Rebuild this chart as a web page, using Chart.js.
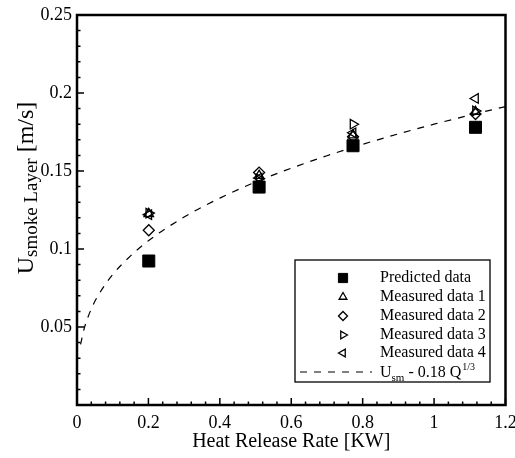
<!DOCTYPE html>
<html>
<head>
<meta charset="utf-8">
<script src="https://cdn.jsdelivr.net/npm/chart.js@4/dist/chart.umd.min.js"></script>
<style>
  html, body { margin: 0; padding: 0; background: #fff; }
</style>
</head>
<body>
<canvas id="grafico" width="515" height="458"></canvas>
<script>
// dados
const heatRate = [0.201, 0.51, 0.773, 1.116];
const predicted = [0.0923, 0.1397, 0.1662, 0.1780];
const measured1 = [0.1225, 0.1470, 0.1730, 0.1880];
const measured2 = [0.1120, 0.1490, 0.1720, 0.1865];
const measured3 = [0.1230, 0.1450, 0.1800, 0.1885];
const measured4 = [0.1220, 0.1455, 0.1745, 0.1965];

// curva U = 0.18 Q^(1/3), pontos lidos ao longo da linha tracejada
const curveQ = [0.01, 0.02, 0.04, 0.06, 0.1, 0.15, 0.2, 0.3, 0.4, 0.5, 0.6, 0.7, 0.8, 0.9, 1.0, 1.1, 1.2];
const curveU = [0.0388, 0.0489, 0.0616, 0.0705, 0.0836, 0.0956, 0.1053, 0.1205, 0.1326, 0.1429, 0.1518, 0.1598, 0.1671, 0.1738, 0.1800, 0.1858, 0.1913];

const xTicks = [0, 0.2, 0.4, 0.6, 0.8, 1, 1.2];
const yTicks = [0.05, 0.1, 0.15, 0.2, 0.25];

const serif = 'Liberation Serif';

function pares(xs, ys) {
    return xs.map((v, i) => ({ x: v, y: ys[i] }));
}

const marcador = {
    backgroundColor: 'rgba(0,0,0,0)',
    borderColor: '#000',
    borderWidth: 1.3
};

const datasets = [
    {
        label: 'Predicted data',
        data: pares(heatRate, predicted),
        pointStyle: 'rect',
        pointRadius: 8.5,
        backgroundColor: '#000',
        borderColor: '#000',
        borderWidth: 1
    },
    Object.assign({ label: 'Measured data 1', data: pares(heatRate, measured1), pointStyle: 'triangle', pointRadius: 5.5, rotation: 0 }, marcador),
    Object.assign({ label: 'Measured data 2', data: pares(heatRate, measured2), pointStyle: 'rectRot', pointRadius: 5.5, rotation: 0 }, marcador),
    Object.assign({ label: 'Measured data 3', data: pares(heatRate, measured3), pointStyle: 'triangle', pointRadius: 5.5, rotation: 90 }, marcador),
    Object.assign({ label: 'Measured data 4', data: pares(heatRate, measured4), pointStyle: 'triangle', pointRadius: 5.5, rotation: -90 }, marcador),
    {
        label: 'curve',
        data: pares(curveQ, curveU),
        showLine: true,
        pointRadius: 0,
        borderColor: '#000',
        borderWidth: 1.2,
        borderDash: [7, 7],
        cubicInterpolationMode: 'monotone',
        fill: false
    }
];

// moldura, ticks internos, titulo do eixo y e legenda
const molduraPlugin = {
    id: 'moldura',
    afterDraw(chart) {
        const { ctx, chartArea: a, scales: { x, y } } = chart;
        ctx.save();
        ctx.strokeStyle = '#000';
        ctx.lineWidth = 1.5;
        ctx.beginPath();
        for (let i = 0; i <= 30; i++) {
            const px = x.getPixelForValue(i * 0.04);
            const len = i % 5 === 0 ? 7 : 3.5;
            ctx.moveTo(px, a.bottom);
            ctx.lineTo(px, a.bottom - len);
        }
        for (let i = 0; i <= 25; i++) {
            const py = y.getPixelForValue(i * 0.01);
            const len = i % 5 === 0 ? 7 : 3.5;
            ctx.moveTo(a.left, py);
            ctx.lineTo(a.left + len, py);
        }
        ctx.stroke();
        ctx.lineWidth = 2.5;
        ctx.strokeRect(a.left, a.top, a.right - a.left, a.bottom - a.top);

        // titulo do eixo y com subscrito
        ctx.fillStyle = '#000';
        ctx.translate(25, 188);
        ctx.rotate(-Math.PI / 2);
        ctx.textBaseline = 'alphabetic';
        const big = '24px "' + serif + '"';
        const sub = '19px "' + serif + '"';
        ctx.font = big;
        const wU = ctx.measureText('U').width;
        const wB = ctx.measureText(' [m/s]').width;
        ctx.font = sub;
        const wS = ctx.measureText('smoke Layer').width;
        let cx = -(wU + wS + wB) / 2;
        ctx.font = big;
        ctx.fillText('U', cx, 8);
        cx += wU;
        ctx.font = sub;
        ctx.fillText('smoke Layer', cx, 12);
        cx += wS;
        ctx.font = big;
        ctx.fillText(' [m/s]', cx, 8);
        ctx.restore();

        // legenda
        ctx.save();
        const box = { l: 295, t: 260, r: 490, b: 382 };
        ctx.fillStyle = '#fff';
        ctx.fillRect(box.l, box.t, box.r - box.l, box.b - box.t);
        ctx.strokeStyle = '#000';
        ctx.lineWidth = 1.3;
        ctx.strokeRect(box.l, box.t, box.r - box.l, box.b - box.t);
        ctx.font = '16px "' + serif + '"';
        ctx.textBaseline = 'middle';
        const rowY = [278, 297, 316, 335, 353];
        for (let i = 0; i < 5; i++) {
            const ds = datasets[i];
            const r = i === 0 ? 6.5 : 4.5;
            ctx.fillStyle = ds.backgroundColor;
            ctx.strokeStyle = '#000';
            ctx.lineWidth = ds.borderWidth;
            Chart.helpers.drawPoint(ctx, {
                pointStyle: ds.pointStyle,
                radius: r,
                rotation: ds.rotation || 0,
                borderWidth: ds.borderWidth
            }, 343, rowY[i]);
            ctx.fillStyle = '#000';
            ctx.fillText(ds.label, 380, rowY[i]);
        }
        // linha tracejada da legenda
        const ly = 372;
        ctx.strokeStyle = '#000';
        ctx.setLineDash([7, 7]);
        ctx.lineWidth = 1.2;
        ctx.beginPath();
        ctx.moveTo(300, ly);
        ctx.lineTo(372, ly);
        ctx.stroke();
        ctx.setLineDash([]);
        let tx = 380;
        ctx.textBaseline = 'alphabetic';
        const base = ly + 5;
        ctx.fillStyle = '#000';
        ctx.font = '16px "' + serif + '"';
        ctx.fillText('U', tx, base);
        tx += ctx.measureText('U').width;
        ctx.font = '11px "' + serif + '"';
        ctx.fillText('sm', tx, base + 4);
        tx += ctx.measureText('sm').width;
        ctx.font = '16px "' + serif + '"';
        ctx.fillText(' - 0.18 Q', tx, base);
        tx += ctx.measureText(' - 0.18 Q').width;
        ctx.font = '10px "' + serif + '"';
        ctx.fillText('1/3', tx + 1, base - 7);
        ctx.restore();
    }
};

function plotarGrafico() {
    const ctx = document.getElementById('grafico').getContext('2d');
    new Chart(ctx, {
        type: 'scatter',
        data: { datasets: datasets },
        options: {
            responsive: false,
            animation: false,
            layout: { padding: { top: 15, right: 9, left: 0, bottom: 0 } },
            plugins: {
                legend: { display: false },
                tooltip: { enabled: false }
            },
            scales: {
                x: {
                    type: 'linear',
                    min: 0,
                    max: 1.2,
                    afterBuildTicks: (s) => { s.ticks = xTicks.map(v => ({ value: v })); },
                    ticks: {
                        padding: 7,
                        color: '#000',
                        maxRotation: 0,
                        autoSkip: false,
                        font: { family: serif, size: 18 },
                        callback: (v) => String(+v.toFixed(2))
                    },
                    grid: { display: false, drawTicks: false },
                    border: { display: false },
                    title: {
                        display: true,
                        text: 'Heat Release Rate [KW]',
                        color: '#000',
                        font: { family: serif, size: 20 },
                        padding: { top: 0, bottom: 4 }
                    },
                    afterFit: (s) => { s.height = 53; s.paddingRight = 0; s.paddingLeft = 0; }
                },
                y: {
                    min: 0,
                    max: 0.25,
                    afterBuildTicks: (s) => { s.ticks = yTicks.map(v => ({ value: v })); },
                    ticks: {
                        padding: 5,
                        color: '#000',
                        autoSkip: false,
                        font: { family: serif, size: 18 },
                        callback: (v) => String(+v.toFixed(2))
                    },
                    grid: { display: false, drawTicks: false },
                    border: { display: false },
                    afterFit: (s) => { s.width = 77; s.paddingTop = 0; s.paddingBottom = 0; }
                }
            }
        },
        plugins: [molduraPlugin]
    });
}

plotarGrafico();
</script>
</body>
</html>
